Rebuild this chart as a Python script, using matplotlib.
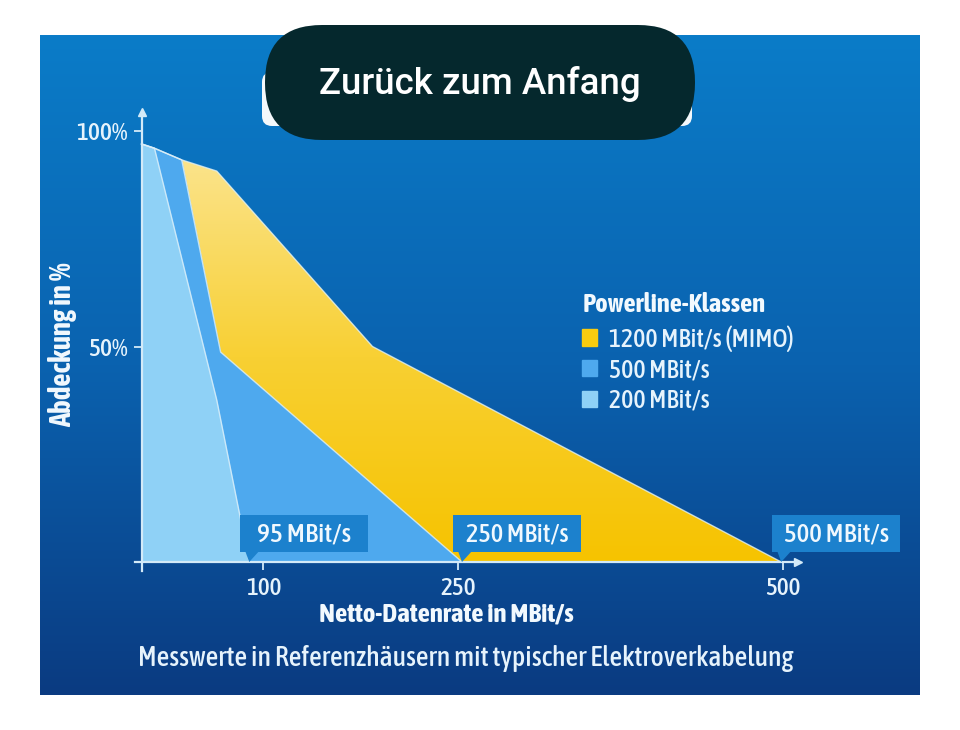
import numpy as np
import matplotlib
matplotlib.use("Agg")
import matplotlib.pyplot as plt
import matplotlib.transforms as mtransforms
from matplotlib import font_manager
from matplotlib.colors import LinearSegmentedColormap
from matplotlib.patches import Polygon, Rectangle, FancyBboxPatch, Patch

# coverage curves (x: MBit/s, y: coverage in %)
x_1200 = [6, 16, 37, 64, 184, 499]
y_1200 = [97, 96, 93.3, 90.7, 50, 0]
x_500 = [6, 16, 37, 67, 253]
y_500 = [97, 96, 93.3, 48.7, 0]
x_200 = [6, 16, 64, 89]
y_200 = [97, 96, 37.6, 0]

series_names = ["1200 MBit/s (MIMO)", "500 MBit/s", "200 MBit/s"]
legend_title = "Powerline-Klassen"
callout_labels = ["95 MBit/s", "250 MBit/s", "500 MBit/s"]
x_ticks = [100, 250, 500]
y_ticks = [50, 100]
y_tick_labels = ["50%", "100%"]

W, H = 960, 730

names = {f.name for f in font_manager.fontManager.ttflist}
family = "Asap Condensed" if "Asap Condensed" in names else "Liberation Sans"
button_family = "Roboto" if "Roboto" in names else "Noto Sans"
plt.rcParams["font.family"] = [family, "DejaVu Sans"]
plt.rcParams["font.weight"] = "medium"

light = "#E6F3FC"
white = "#F2F9FE"
axis_col = "#D3EAF8"


def fx(px):
    return px / W


def fy(py):
    return 1 - py / H


fig = plt.figure(figsize=(W / 100, H / 100), dpi=100, facecolor="white")

# blue panel background
bg = fig.add_axes([0, 0, 1, 1], zorder=0)
bg_cmap = LinearSegmentedColormap.from_list("bg", ["#0B7CC8", "#0A62AF", "#0B3B81"])
bg.imshow(np.linspace(0, 1, 256).reshape(-1, 1), cmap=bg_cmap, extent=[40, 920, 695, 35],
          aspect="auto", origin="upper")
bg.set_xlim(0, W)
bg.set_ylim(H, 0)
bg.axis("off")

# main chart
ax = fig.add_axes([fx(100), fy(600), 800 / W, 500 / H], zorder=1)
ax.patch.set_alpha(0)
xlim = ((100 - 133.7) / 1.2976, (900 - 133.7) / 1.2976)
ylim = ((562 - 600) / 4.31, (562 - 100) / 4.31)

poly = ax.fill_between(x_1200, y_1200, 0, color="#F7C700", lw=0, zorder=2)
y_cmap = LinearSegmentedColormap.from_list("yel", ["#F6C300", "#F8D033", "#FBE48E"])
im = ax.imshow(np.linspace(0, 1, 256).reshape(-1, 1), cmap=y_cmap, extent=[0, 500, 0, 95],
               origin="lower", aspect="auto", zorder=2.1)
im.set_clip_path(poly.get_paths()[0], transform=ax.transData)

ax.fill_between(x_500, y_500, 0, color="#4EA9EE", lw=0, zorder=3)
ax.fill_between(x_200, y_200, 0, color="#8FD1F6", lw=0, zorder=4)
for xs, ys in [(x_1200, y_1200), (x_500, y_500), (x_200, y_200)]:
    ax.plot(xs, ys, color="#DDF0FA", lw=1.0, alpha=0.8, zorder=5)

ax.set_xlim(*xlim)
ax.set_ylim(*ylim)

for s in ["top", "right"]:
    ax.spines[s].set_visible(False)
ax.spines["left"].set_position(("data", 6.4))
ax.spines["left"].set_bounds(-2, 104)
ax.spines["bottom"].set_position(("data", 0))
ax.spines["bottom"].set_bounds(1, 512)
for s in ["left", "bottom"]:
    ax.spines[s].set_color(axis_col)
    ax.spines[s].set_linewidth(1.6)
    ax.spines[s].set_zorder(6)
ax.plot([512], [0], marker=">", ms=6, color=axis_col, clip_on=False, zorder=6)
ax.plot([6.4], [104.5], marker="^", ms=6, color=axis_col, clip_on=False, zorder=6)

ax.set_xticks(x_ticks, [str(v) for v in x_ticks])
ax.set_yticks(y_ticks, y_tick_labels)
ax.tick_params(axis="both", direction="out", length=6, width=1.3, color=axis_col,
               labelcolor=light, labelsize=16)
ax.tick_params(axis="x", pad=5)
ax.tick_params(axis="y", pad=4)

fits = []  # (text, target width in px, rotated, group sharing the size)

# callouts at the end of each curve
callout_widths = [94, 103, 105]
for xv, lab, wd in zip([x_200[-1], x_500[-1], x_1200[-1]], callout_labels, callout_widths):
    tr = mtransforms.IdentityTransform() + mtransforms.ScaledTranslation(xv, 0, ax.transData)
    ax.add_patch(Rectangle((-9, 10), 128, 37, transform=tr, fc="#1C81CD", ec="none",
                           clip_on=False, zorder=7))
    ax.add_patch(Polygon([(-4, 11), (10, 11), (0, 0)], transform=tr, fc="#1C81CD",
                         ec="none", clip_on=False, zorder=7))
    t = ax.text(55, 28, lab, transform=tr, ha="center", va="center", fontsize=17,
                color="#F0F8FE", zorder=8, clip_on=False)
    fits.append((t, wd, False, [t]))

# legend
handles = [Patch(color=c) for c in ["#F8CC10", "#4EA9EE", "#8FD1F6"]]
leg = ax.legend(handles, series_names, loc="upper left",
                bbox_to_anchor=(fx(582), fy(325)), bbox_transform=fig.transFigure,
                frameon=False, fontsize=18.5, handlelength=0.6, handleheight=0.6,
                handletextpad=0.45, labelspacing=0.22, borderpad=0, borderaxespad=0)
for t in leg.get_texts():
    t.set_color(light)
t = fig.text(fx(583), fy(304), legend_title, ha="left", va="center", fontsize=17,
             fontweight="bold", color=white)
fits.append((t, 183, False, [t]))

# tick labels
fig.canvas.draw()
xl = ax.get_xticklabels()
yl = ax.get_yticklabels()
fits.append((xl[0], 36, False, xl))
fits.append((yl[1], 52, False, yl))

# axis titles and footnote
t = fig.text(fx(446), fy(614), "Netto-Datenrate in MBit/s", ha="center", va="center",
             fontsize=17, fontweight="bold", color=white, zorder=3)
fits.append((t, 256, False, [t]))
t = fig.text(fx(63), fy(345), "Abdeckung in %", ha="center", va="center", rotation=90,
             fontsize=17, fontweight="bold", color=white, zorder=3)
fits.append((t, 166, True, [t]))
t = fig.text(fx(466), fy(658), "Messwerte in Referenzhäusern mit typischer Elektroverkabelung",
             ha="center", va="center", fontsize=20, color=light, zorder=3)
fits.append((t, 657, False, [t]))

# overlay: hidden title box and the button on top
ov = fig.add_axes([0, 0, 1, 1], zorder=10)
ov.set_xlim(0, W)
ov.set_ylim(H, 0)
ov.axis("off")
ov.patch.set_alpha(0)
ov.add_patch(FancyBboxPatch((262, 72), 430, 54, boxstyle="round,pad=0,rounding_size=10",
                            fc="#F4F8FB", ec="none"))
ov.add_patch(FancyBboxPatch((265, 25), 430, 115, boxstyle="round,pad=0,rounding_size=57",
                            fc="#05282D", ec="none"))
t = ov.text(480, 84, "Zurück zum Anfang", ha="center", va="center", fontsize=25,
            color="white", family=[button_family, "DejaVu Sans"], fontweight="medium")
fits.append((t, 322, False, [t]))

# scale texts so their widths match the picture
fig.canvas.draw()
renderer = fig.canvas.get_renderer()
for t, target, rotated, group in fits:
    bb = t.get_window_extent(renderer)
    size = bb.height if rotated else bb.width
    new = t.get_fontsize() * target / size
    for other in group:
        other.set_fontsize(new)
ax.tick_params(axis="x", labelsize=xl[0].get_fontsize())
ax.tick_params(axis="y", labelsize=yl[0].get_fontsize())

fig.savefig("out.png", dpi=100, facecolor="white")
